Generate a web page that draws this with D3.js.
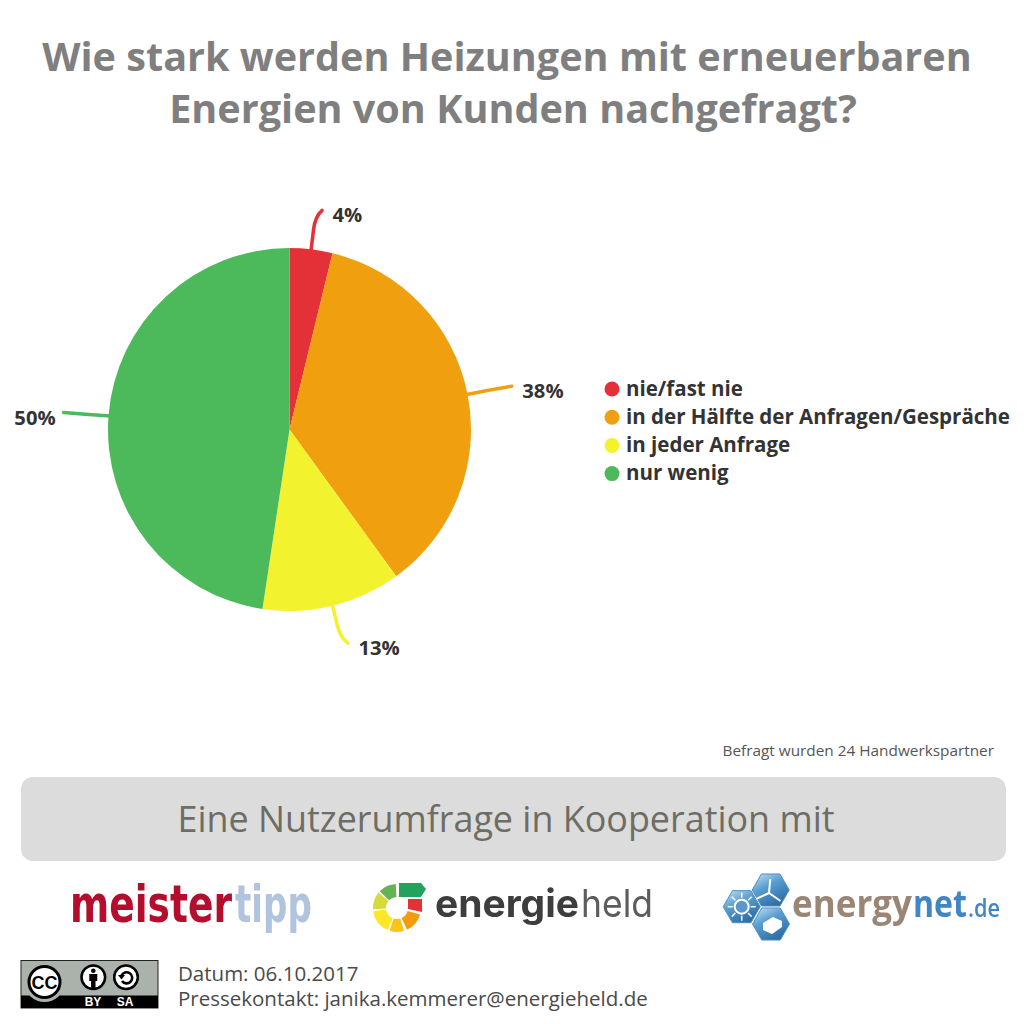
<!DOCTYPE html>
<html>
<head>
<meta charset="utf-8">
<script src="https://cdn.jsdelivr.net/npm/d3@7"></script>
<style>
html, body { margin: 0; padding: 0; background: #fff; }
svg { display: block; }
text { font-family: "Open Sans", sans-serif; }
</style>
</head>
<body>
<svg id="chart" width="1024" height="1024"></svg>
<script>
const categories = ["nie/fast nie", "in der Hälfte der Anfragen/Gespräche", "in jeder Anfrage", "nur wenig"];
const values = [4, 38, 13, 50];
const sliceColors = ["#e43137", "#f09f0f", "#f2f22e", "#4cb95a"];
const titleLines = ["Wie stark werden Heizungen mit erneuerbaren", "Energien von Kunden nachgefragt?"];
const footerLines = ["Datum: 06.10.2017", "Pressekontakt: janika.kemmerer@energieheld.de"];

const svg = d3.select("#chart");
const cx = 289.5, cy = 429.5, radius = 181.5;

// Title
svg.selectAll(".title")
    .data(titleLines)
    .enter().append("text")
    .attr("class", "title")
    .attr("x", (d, i) => i ? 513 : 507)
    .attr("y", (d, i) => 71 + i * 52)
    .attr("text-anchor", "middle")
    .attr("font-size", 39.6)
    .attr("font-weight", 700)
    .attr("fill", "#7f7f7f")
    .text(d => d);

// Pie
const pie = d3.pie().sort(null).value(d => d)(values);
const arc = d3.arc().innerRadius(0).outerRadius(radius);
const g = svg.append("g").attr("transform", `translate(${cx},${cy})`);

g.selectAll(".slice")
    .data(pie)
    .enter().append("path")
    .attr("class", "slice")
    .attr("d", arc)
    .attr("fill", (d, i) => sliceColors[i]);

// Leader lines: radial out of the slice, the two short ones hook at the tip
const polar = (a, r) => [Math.sin(a) * r, -Math.cos(a) * r];
const mid = d => (d.startAngle + d.endAngle) / 2;
const tipBend = [0.028, 0.002, -0.028, 0];
const tipLength = [40, 45, 40, 45];
const tipOf = (d, i) => polar(mid(d) + tipBend[i], radius + tipLength[i]);

g.selectAll(".leader")
    .data(pie)
    .enter().append("path")
    .attr("class", "leader")
    .attr("fill", "none")
    .attr("stroke", (d, i) => sliceColors[i])
    .attr("stroke-width", 3.5)
    .attr("stroke-linecap", "round")
    .attr("d", (d, i) => {
        const a = mid(d);
        const p0 = polar(a, radius - 2);
        const p1 = polar(a, radius + 20);
        return `M${p0}L${p1}Q${polar(a, radius + 33)} ${tipOf(d, i)}`;
    });

// Percent labels sit just past the leader tip
g.selectAll(".pct")
    .data(pie)
    .enter().append("text")
    .attr("class", "pct")
    .attr("font-size", 20.2)
    .attr("font-weight", 700)
    .attr("fill", "#333")
    .attr("text-anchor", d => mid(d) < Math.PI ? "start" : "end")
    .attr("x", (d, i) => tipOf(d, i)[0] + (mid(d) < Math.PI ? 10.5 : -8))
    .attr("y", (d, i) => tipOf(d, i)[1] + 12)
    .text(d => d.value + "%");

// Legend
const legend = svg.selectAll(".legend")
    .data(categories)
    .enter().append("g")
    .attr("class", "legend")
    .attr("transform", (d, i) => `translate(612,${389 + i * 28.2})`);
legend.append("circle")
    .attr("r", 7.5)
    .attr("fill", (d, i) => sliceColors[i]);
legend.append("text")
    .attr("x", 14)
    .attr("y", 6.5)
    .attr("font-size", 20.5)
    .attr("font-weight", 700)
    .attr("fill", "#333")
    .text(d => d);

// Note
svg.append("text")
    .attr("x", 994).attr("y", 756)
    .attr("text-anchor", "end")
    .attr("font-size", 15.35)
    .attr("fill", "#555")
    .text("Befragt wurden 24 Handwerkspartner");

// Banner
svg.append("rect")
    .attr("x", 21).attr("y", 777)
    .attr("width", 985).attr("height", 84)
    .attr("rx", 12)
    .attr("fill", "#dcdcdc");
svg.append("text")
    .attr("x", 506).attr("y", 832)
    .attr("text-anchor", "middle")
    .attr("font-size", 35.9)
    .attr("fill", "#6d6d64")
    .text("Eine Nutzerumfrage in Kooperation mit");

// Logos get a slight blur, they are scaled bitmaps in the original
const defs = svg.append("defs");
defs.append("filter").attr("id", "soft")
    .append("feGaussianBlur").attr("stdDeviation", 0.6);
const hexGrad = defs.append("linearGradient").attr("id", "hexGrad")
    .attr("x1", 0).attr("y1", 0).attr("x2", 0.6).attr("y2", 1);
hexGrad.append("stop").attr("offset", "0%").attr("stop-color", "#c4e6f7");
hexGrad.append("stop").attr("offset", "45%").attr("stop-color", "#5b9ed0");
hexGrad.append("stop").attr("offset", "100%").attr("stop-color", "#2c6ea6");

const logos = svg.append("g").attr("filter", "url(#soft)");

// small helper, every logo word is squeezed to the width it has in the original
const logoWord = (txt, x, y, len, size, weight, color, family) => {
    const t = logos.append("text")
        .attr("font-size", size)
        .attr("font-weight", weight)
        .attr("fill", color)
        .style("font-family", family)
        .text(txt);
    const sx = len / t.node().getComputedTextLength();
    t.attr("transform", `translate(${x},${y}) scale(${sx},1)`);
    return t;
};

// meistertipp
logoWord("meister", 70, 922, 162, 52, 700, "#b5112f", '"DejaVu Sans", sans-serif');
logoWord("tipp", 235, 922, 77, 52, 700, "#b0c4de", '"DejaVu Sans", sans-serif');

// energieheld ring
const ring = [
    { a0: -46, a1: -3, c: "#65b354" },
    { a0: -93, a1: -50, c: "#d6da3c" },
    { a0: -157, a1: -98, c: "#fde725" },
    { a0: 163, a1: 198, c: "#fdc412" },
    { a0: 106, a1: 155, c: "#f59c0a" }
];
const ringArc = d3.arc().innerRadius(11).outerRadius(24);
logos.append("g").attr("transform", "translate(397,908)")
    .selectAll("path")
    .data(ring)
    .enter().append("path")
    .attr("fill", d => d.c)
    .attr("d", d => ringArc({ startAngle: d.a0 * Math.PI / 180, endAngle: d.a1 * Math.PI / 180 }));
logos.append("path").attr("d", "M399,883H421L426,889L421,897H399Z").attr("fill", "#21a25c");
logos.append("path").attr("d", "M408,899H422V912L408,909Z").attr("fill", "#e63036");
logoWord("energie", 435, 917, 144, 38, 700, "#3c3c3e", "Inter, sans-serif");
logoWord("held", 581, 917, 72, 38, 400, "#5c5c5e", "Inter, sans-serif");

// energynet hexagons, flat side on top
const hexPath = (x, y, r) => d3.line()(d3.range(6).map(i => {
    const a = Math.PI / 3 * i;
    return [x + r * Math.cos(a), y + r * Math.sin(a)];
})) + "Z";
const hexes = [[770.7, 890], [741.7, 906.7], [771, 924]];
logos.selectAll(".hex")
    .data(hexes)
    .enter().append("path")
    .attr("class", "hex")
    .attr("d", d => hexPath(d[0], d[1], 18.5))
    .attr("fill", "url(#hexGrad)")
    .attr("stroke", "#4d8fc4")
    .attr("stroke-width", 1);
// sun
logos.append("circle").attr("cx", 741.7).attr("cy", 906.7).attr("r", 7)
    .attr("fill", "#5b97c9").attr("stroke", "#fff").attr("stroke-width", 2);
logos.selectAll(".ray")
    .data(d3.range(8))
    .enter().append("line")
    .attr("class", "ray")
    .attr("x1", i => 741.7 + 9 * Math.cos(i * Math.PI / 4))
    .attr("y1", i => 906.7 + 9 * Math.sin(i * Math.PI / 4))
    .attr("x2", i => 741.7 + 14 * Math.cos(i * Math.PI / 4))
    .attr("y2", i => 906.7 + 14 * Math.sin(i * Math.PI / 4))
    .attr("stroke", "#fff").attr("stroke-width", 1.5);
// turbine
logos.selectAll(".blade")
    .data([-85, 35, 155])
    .enter().append("line")
    .attr("class", "blade")
    .attr("x1", 769).attr("y1", 893)
    .attr("x2", a => 769 + 14 * Math.cos(a * Math.PI / 180))
    .attr("y2", a => 893 + 14 * Math.sin(a * Math.PI / 180))
    .attr("stroke", "#fff").attr("stroke-width", 2);
// box
logos.append("path").attr("d", "M763,923L773,917L782,921V927L772,934L763,930Z").attr("fill", "#fff");

logoWord("energy", 792, 917, 120, 37, 700, "#9a8674", '"Open Sans", sans-serif');
logoWord("net", 913, 917, 54, 37, 700, "#3f86c4", '"Open Sans", sans-serif');
logoWord(".de", 968, 917, 32, 25, 600, "#3f86c4", '"Open Sans", sans-serif');

// CC BY-SA badge
const cc = svg.append("g");
cc.append("rect").attr("x", 21).attr("y", 960.5).attr("width", 137).attr("height", 47.5)
    .attr("fill", "#aab2ab").attr("stroke", "#222").attr("stroke-width", 1);
cc.append("rect").attr("x", 21).attr("y", 995.5).attr("width", 137).attr("height", 12.5).attr("fill", "#000");
cc.append("circle").attr("cx", 44.5).attr("cy", 982).attr("r", 20).attr("fill", "#aab2ab");
cc.append("circle").attr("cx", 44.5).attr("cy", 982).attr("r", 15.5)
    .attr("fill", "#fff").attr("stroke", "#000").attr("stroke-width", 3);
cc.append("text").attr("x", 44.5).attr("y", 988.5).attr("text-anchor", "middle")
    .attr("font-size", 18).attr("font-weight", 700).attr("fill", "#000")
    .style("font-family", '"Liberation Sans", sans-serif').text("CC");
cc.selectAll(".ccIcon")
    .data([93.3, 126])
    .enter().append("circle")
    .attr("class", "ccIcon")
    .attr("cx", d => d).attr("cy", 977.3).attr("r", 11.8)
    .attr("fill", "#fff").attr("stroke", "#000").attr("stroke-width", 2.5);
cc.append("circle").attr("cx", 93.3).attr("cy", 970.8).attr("r", 2.3).attr("fill", "#000");
cc.append("path").attr("d", "M89.3,974H97.3V981H95.5V988H91.1V981H89.3Z").attr("fill", "#000");
cc.append("path").attr("d", "M121.5,975.5A5.6,5.6 0 1 1 122,981").attr("fill", "none").attr("stroke", "#000").attr("stroke-width", 2.6);
cc.append("path").attr("d", "M118,975L125,975L121.5,979.5Z").attr("fill", "#000");
cc.selectAll(".ccTag")
    .data([["BY", 93], ["SA", 125]])
    .enter().append("text")
    .attr("class", "ccTag")
    .attr("x", d => d[1]).attr("y", 1006)
    .attr("text-anchor", "middle")
    .attr("font-size", 12).attr("font-weight", 700).attr("fill", "#fff")
    .style("font-family", '"Liberation Sans", sans-serif')
    .text(d => d[0]);

// Footer text
svg.selectAll(".footer")
    .data(footerLines)
    .enter().append("text")
    .attr("class", "footer")
    .attr("x", 178)
    .attr("y", (d, i) => 981 + i * 24.5)
    .attr("font-size", 20.5)
    .attr("fill", "#4a4a4a")
    .text(d => d);
</script>
</body>
</html>
